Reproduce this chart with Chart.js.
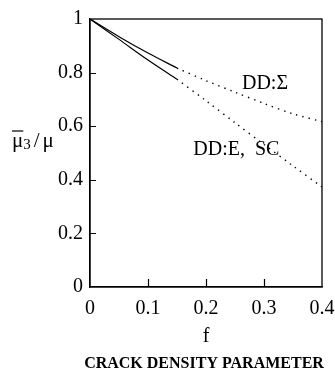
<!DOCTYPE html>
<html>
<head>
<meta charset="utf-8">
<style>
    html, body { margin: 0; padding: 0; background: #fff; }
    #wrap { width: 335px; height: 374px; }
</style>
</head>
<body>
<div id="wrap"><canvas id="myChart"></canvas></div>
<script src="https://cdn.jsdelivr.net/npm/chart.js"></script>
<script>
    // 데이터
    const fSolid = [0, 0.05, 0.1, 0.15];
    const sigmaSolid = [1, 0.934, 0.873, 0.817];
    const eScSolid = [1, 0.924, 0.847, 0.775];

    const fDotted = [0.15, 0.2, 0.25, 0.3, 0.35, 0.4];
    const sigmaDotted = [0.817, 0.77, 0.727, 0.685, 0.646, 0.617];
    const eScDotted = [0.775, 0.695, 0.613, 0.532, 0.452, 0.373];

    const xTickLabels = ['0', '0.1', '0.2', '0.3', '0.4'];
    const yTickLabels = ['0', '0.2', '0.4', '0.6', '0.8', '1'];

    const curveLabels = [
        {text: 'DD:\u03A3', f: 0.262, v: 0.757},
        {text: 'DD:E,  SC', f: 0.178, v: 0.511}
    ];

    const serif = '"Liberation Serif", "DejaVu Serif", serif';

    function pts(xs, ys) {
        return xs.map(function (x, i) { return {x: x, y: ys[i]}; });
    }

    // 안쪽 눈금, 테두리, 글자
    const decorate = {
        id: 'decorate',
        afterDraw(chart) {
            const ctx = chart.ctx;
            const a = chart.chartArea;
            const xs = chart.scales.x;
            const ys = chart.scales.y;
            ctx.save();
            ctx.strokeStyle = '#000';
            ctx.lineWidth = 1.3;
            ctx.strokeRect(a.left, a.top, a.right - a.left, a.bottom - a.top);

            ctx.lineWidth = 1.2;
            ctx.beginPath();
            [0.1, 0.2, 0.3].forEach(function (v) {
                const px = Math.round(xs.getPixelForValue(v)) + 0.5;
                ctx.moveTo(px, a.bottom);
                ctx.lineTo(px, a.bottom - 8);
            });
            [0.2, 0.4, 0.6, 0.8].forEach(function (v) {
                const py = Math.round(ys.getPixelForValue(v)) + 0.5;
                ctx.moveTo(a.left, py);
                ctx.lineTo(a.left + 6, py);
            });
            ctx.stroke();

            ctx.fillStyle = '#000';
            ctx.textBaseline = 'middle';
            ctx.textAlign = 'left';
            ctx.font = '20px ' + serif;
            curveLabels.forEach(function (c) {
                ctx.fillText(c.text, xs.getPixelForValue(c.f), ys.getPixelForValue(c.v));
            });

            // 세로축 이름 mu3 / mu
            let x = 12, y = 141;
            ctx.font = '21px ' + serif;
            ctx.fillText('\u03BC', x, y);
            const w1 = ctx.measureText('\u03BC').width;
            ctx.lineWidth = 1.2;
            ctx.beginPath();
            ctx.moveTo(x, y - 10);
            ctx.lineTo(x + w1, y - 10);
            ctx.stroke();
            x += w1;
            ctx.font = '15px ' + serif;
            ctx.fillText('3', x, y + 4);
            x += ctx.measureText('3').width + 3;
            ctx.font = '21px ' + serif;
            ctx.fillText('/', x, y);
            x += ctx.measureText('/').width + 3;
            ctx.fillText('\u03BC', x, y);

            ctx.font = 'bold 16px ' + serif;
            ctx.textAlign = 'center';
            ctx.fillText('CRACK DENSITY PARAMETER', 204, 364);
            ctx.restore();
        }
    };

    const solidStyle = {borderColor: '#000', borderWidth: 1.2, pointRadius: 0, fill: false, tension: 0.3};
    const dotStyle = {borderColor: '#000', borderWidth: 1.4, borderDash: [1.4, 5], pointRadius: 0, fill: false, tension: 0.3};

    new Chart(document.getElementById('myChart'), {
        type: 'line',
        data: {
            datasets: [
                Object.assign({label: 'DD:\u03A3', data: pts(fSolid, sigmaSolid)}, solidStyle),
                Object.assign({label: 'DD:E, SC', data: pts(fSolid, eScSolid)}, solidStyle),
                Object.assign({label: 'DD:\u03A3 ext', data: pts(fDotted, sigmaDotted)}, dotStyle),
                Object.assign({label: 'DD:E, SC ext', data: pts(fDotted, eScDotted)}, dotStyle)
            ]
        },
        options: {
            responsive: true,
            maintainAspectRatio: false,
            animation: false,
            layout: {padding: {top: 19, right: 13, left: 0, bottom: 0}},
            plugins: {legend: {display: false}, tooltip: {enabled: false}},
            scales: {
                x: {
                    type: 'linear',
                    min: 0, max: 0.4,
                    afterFit: function (s) {
                        s.height = 87;
                        s.paddingLeft = 0; s.paddingRight = 0;
                        s.paddingTop = 0; s.paddingBottom = 0;
                    },
                    afterBuildTicks: function (s) {
                        s.ticks = xTickLabels.map(function (t) { return {value: parseFloat(t)}; });
                    },
                    ticks: {
                        color: '#000', padding: 10, maxRotation: 0,
                        font: {family: serif, size: 20},
                        callback: function (v, i) { return xTickLabels[i]; }
                    },
                    grid: {display: false, drawTicks: false},
                    border: {color: '#000', width: 1.3},
                    title: {display: true, text: 'f', color: '#000', font: {family: serif, size: 20}, padding: {bottom: 25}}
                },
                y: {
                    min: 0, max: 1,
                    afterFit: function (s) {
                        s.width = 90;
                        s.paddingLeft = 0; s.paddingRight = 0;
                        s.paddingTop = 0; s.paddingBottom = 0;
                    },
                    afterBuildTicks: function (s) {
                        s.ticks = yTickLabels.map(function (t) { return {value: parseFloat(t)}; });
                    },
                    ticks: {
                        color: '#000', padding: 7,
                        font: {family: serif, size: 20},
                        callback: function (v, i) { return yTickLabels[i]; }
                    },
                    grid: {display: false, drawTicks: false},
                    border: {color: '#000', width: 1.3}
                }
            }
        },
        plugins: [decorate]
    });
</script>
</body>
</html>
